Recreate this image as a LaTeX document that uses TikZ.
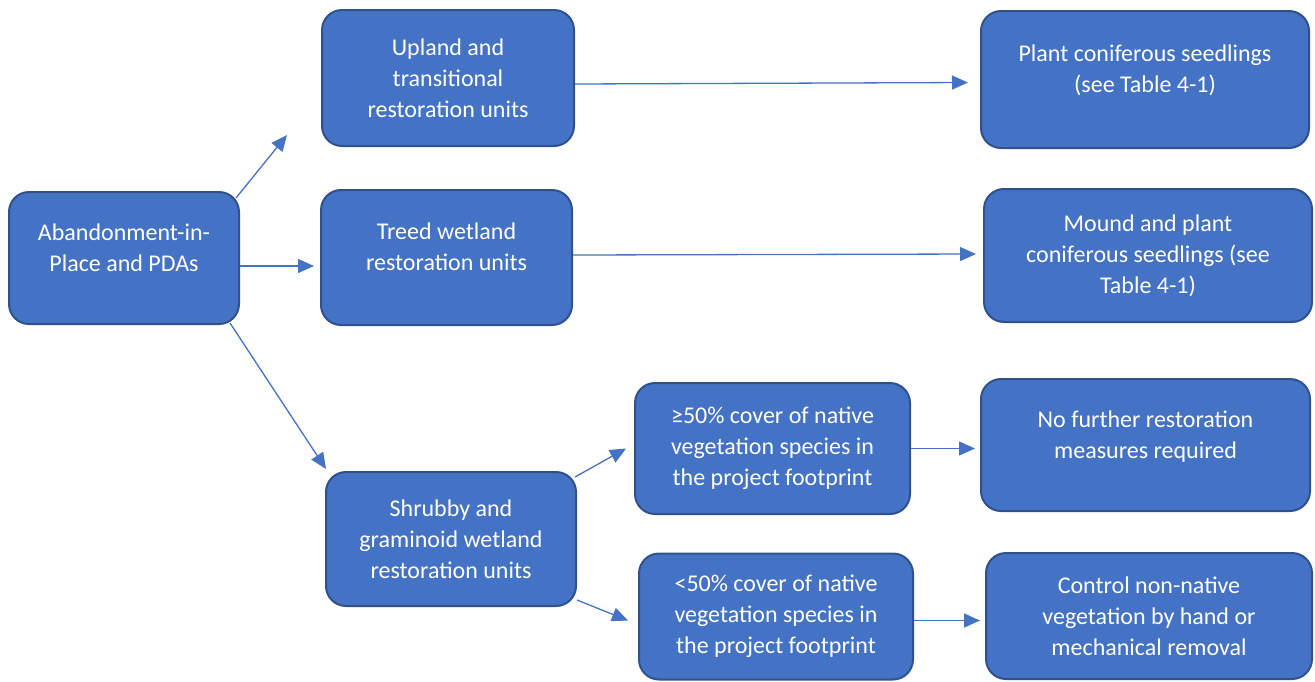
\documentclass[tikz,border=0pt]{standalone}
\usepackage{fontspec}
\setmainfont{Carlito}
\usetikzlibrary{arrows.meta}
\definecolor{boxblue}{HTML}{4472C4}
\definecolor{edgeblue}{HTML}{2F528F}

\begin{document}
\begin{tikzpicture}[x=1pt,y=-1pt,
	unit/.style={draw=edgeblue, line width=2pt, fill=boxblue, rounded corners=20pt, text=white, align=center, inner sep=0pt, font=\fontsize{24}{31}\selectfont},
	twoline/.style={text depth=21pt},
	link/.style={draw=boxblue, line width=1.3pt, -{Triangle[length=16pt,width=14pt]}}]
	\useasboundingbox (0,0) rectangle (1315,681);
	% first column
	\node [unit, twoline, minimum width=230pt, minimum height=132pt] (aip) at (124,258) {Abandonment-in-\\Place and PDAs};
	% restoration units
	\node [unit, minimum width=252pt, minimum height=136pt] (upland) at (448,78) {Upland and\\transitional\\restoration units};
	\node [unit, twoline, minimum width=251pt, minimum height=135pt] (treed) at (446.5,257.5) {Treed wetland\\restoration units};
	\node [unit, minimum width=250pt, minimum height=134pt] (shrub) at (451,539) {Shrubby and\\graminoid wetland\\restoration units};
	% cover classes
	\node [unit, minimum width=275pt, minimum height=131pt] (high) at (772.5,448.5) {≥50\% cover of native\\vegetation species in\\the project footprint};
	\node [unit, minimum width=274pt, minimum height=126pt] (low) at (776,616.5) {<50\% cover of native\\vegetation species in\\the project footprint};
	% measures
	\node [unit, twoline, minimum width=328pt, minimum height=137pt] (plant) at (1145,79.5) {Plant coniferous seedlings\\(see Table 4-1)};
	\node [unit, minimum width=328pt, minimum height=133pt] (mound) at (1148,255.5) {Mound and plant\\coniferous seedlings (see\\Table 4-1)};
	\node [unit, twoline, minimum width=329pt, minimum height=132pt] (none) at (1145.5,445) {No further restoration\\measures required};
	\node [unit, minimum width=326pt, minimum height=126pt] (control) at (1149,616) {Control non-native\\vegetation by hand or\\mechanical removal};

	\draw [link] ([xshift=-4pt,yshift=-7pt]aip.north east) -- ([xshift=-34pt,yshift=12pt]upland.south west);
	\draw [link] ([yshift=-8pt]aip.east) -- ([xshift=-6pt,yshift=-8.5pt]treed.west);
	\draw [link] ([xshift=-10pt,yshift=2pt]aip.south east) -- ([xshift=1pt,yshift=2pt]shrub.north west);
	\draw [link] ([yshift=-6pt]upland.east) -- ([xshift=-12pt,yshift=-3pt]plant.west);
	\draw [link] ([yshift=2.5pt]treed.east) -- ([xshift=-7pt,yshift=1.5pt]mound.west);
	\draw [link] ([xshift=-2pt,yshift=-6pt]shrub.north east) -- ([xshift=-8pt]high.west);
	\draw [link] ([yshift=7pt]shrub.south east) -- ([xshift=-10pt,yshift=-4pt]low.west);
	\draw [link] (high.east) -- ([xshift=-5pt]none.west |- high.east);
	\draw [link] ([yshift=-4pt]low.east) -- ([xshift=-5pt,yshift=-4pt]control.west |- low.east);
\end{tikzpicture}
\end{document}
